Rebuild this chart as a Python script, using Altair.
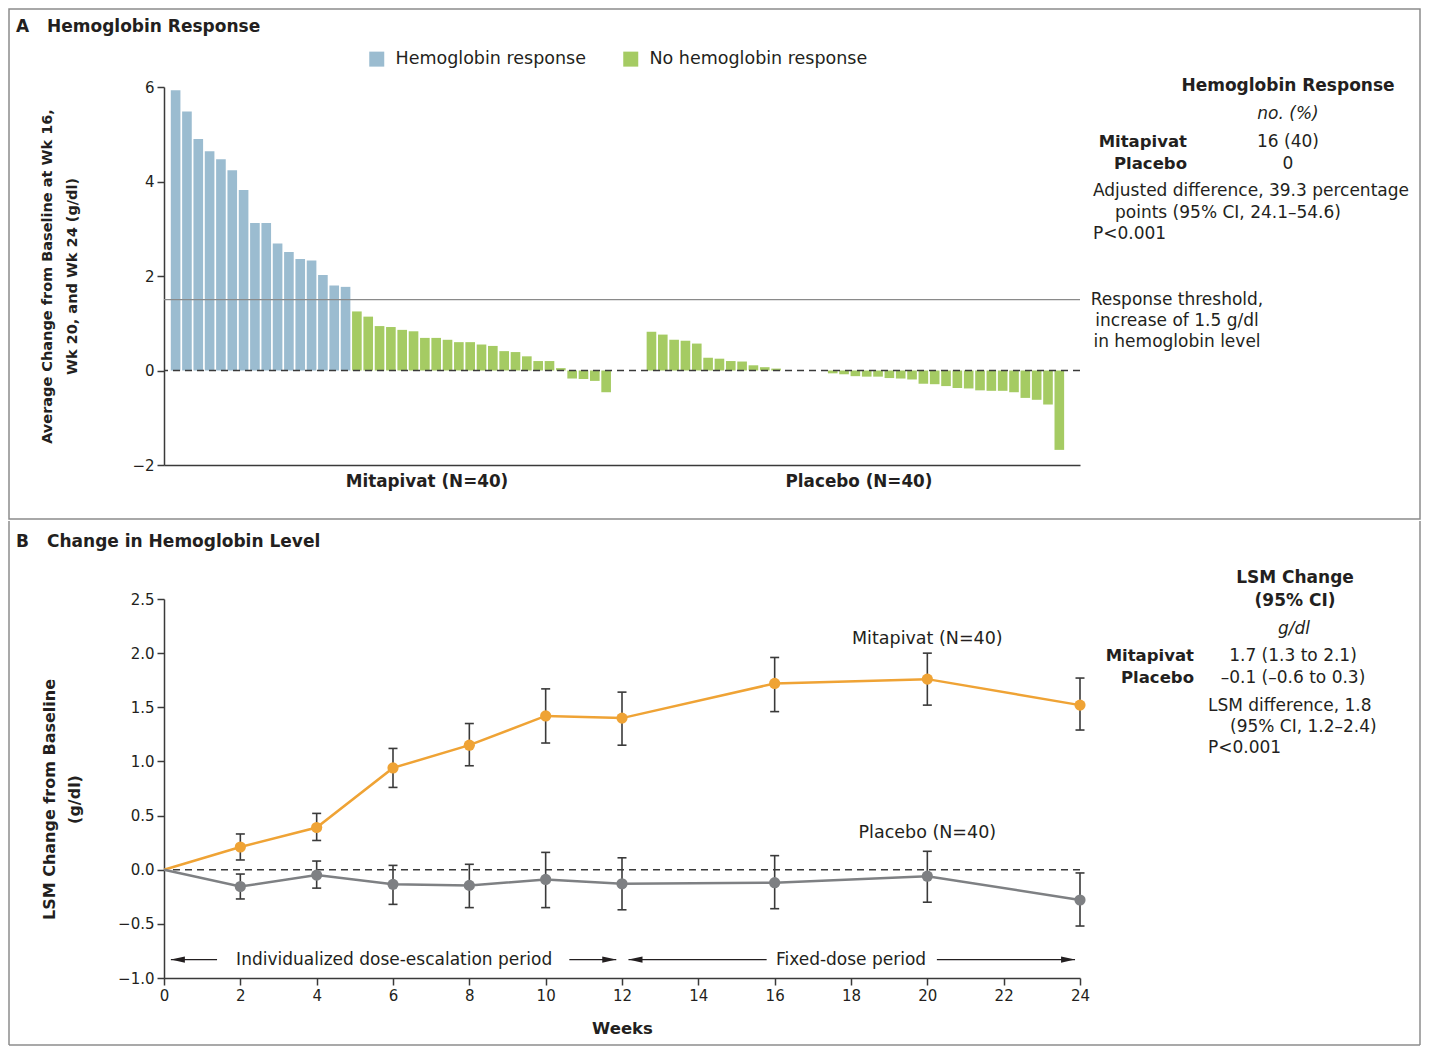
import altair as alt
import pandas as pd

FONT = "DejaVu Sans"
INK = "#231f20"
AXIS = "#3a3a3a"
BLUE = "#9bbcd0"
GREEN = "#a5cb63"
ORANGE = "#efa335"
GRAY = "#7e8083"
FRAME = "#8c8c8c"

# ---------------- Panel A data ----------------
mitapivat_response = [5.93, 5.48, 4.90, 4.64, 4.47, 4.24, 3.82, 3.12, 3.12, 2.69,
                      2.51, 2.36, 2.33, 2.02, 1.80, 1.77]
mitapivat_no_response = [1.25, 1.14, 0.94, 0.92, 0.86, 0.83, 0.69, 0.69, 0.65, 0.60,
                         0.60, 0.55, 0.52, 0.41, 0.39, 0.30, 0.20, 0.20, 0.05, -0.17,
                         -0.18, -0.22, -0.46]
placebo_values = [0.82, 0.76, 0.65, 0.63, 0.57, 0.27, 0.25, 0.20, 0.19, 0.11,
                  0.07, 0.04, 0.0, 0.0, 0.0, 0.0, -0.06, -0.08, -0.12, -0.13,
                  -0.13, -0.16, -0.17, -0.19, -0.28, -0.29, -0.33, -0.37, -0.38, -0.42,
                  -0.43, -0.43, -0.46, -0.58, -0.62, -0.72, -1.68]
gap_slots = ["gap1", "gap2", "gap3"]
threshold = [1.5]
zero_line = [0.0]
status_labels = ["Hemoglobin response", "No hemoglobin response"]
a_y_ticks = [-2, 0, 2, 4, 6]

# ---------------- Panel B data ----------------
weeks = [0, 2, 4, 6, 8, 10, 12, 16, 20, 24]
mit_lsm = [0.0, 0.21, 0.39, 0.94, 1.15, 1.42, 1.40, 1.72, 1.76, 1.52]
mit_low = [0.09, 0.27, 0.76, 0.96, 1.17, 1.15, 1.46, 1.52, 1.29]
mit_high = [0.33, 0.52, 1.12, 1.35, 1.67, 1.64, 1.96, 2.00, 1.77]
pbo_lsm = [0.0, -0.155, -0.05, -0.135, -0.145, -0.09, -0.13, -0.12, -0.06, -0.28]
pbo_low = [-0.27, -0.17, -0.32, -0.35, -0.35, -0.37, -0.36, -0.30, -0.52]
pbo_high = [-0.04, 0.08, 0.04, 0.05, 0.16, 0.11, 0.13, 0.17, -0.03]
b_x_ticks = [0, 2, 4, 6, 8, 10, 12, 14, 16, 18, 20, 22, 24]
b_y_ticks = [-1.0, -0.5, 0.0, 0.5, 1.0, 1.5, 2.0, 2.5]
series_labels = ["Mitapivat (N=40)", "Placebo (N=40)"]
series_label_week = [20, 20]
series_label_value = [2.13, 0.34]
period_names = ["Individualized dose-escalation period", "Fixed-dose period"]
period_text_week = [6.03, 18.0]
period_level = -0.83
arrow_start = [0.18, 10.62, 12.17, 20.25]
arrow_end = [1.39, 11.85, 15.79, 23.87]
arrow_tip_left = [0.18, 12.17]
arrow_tip_right = [11.85, 23.87]

W = 916
HA = 378
HB = 379
one = pd.DataFrame({"k": [0]})


def label(txt, x, y, size=17, weight="normal", align="left", style="normal"):
    return alt.Chart(one).mark_text(
        font=FONT, fontSize=size, fontWeight=weight, align=align, baseline="middle",
        color=INK, fontStyle=style
    ).encode(x=alt.value(x), y=alt.value(y), text=alt.value(txt))


# ---------------- Panel A ----------------
mit_all = mitapivat_response + mitapivat_no_response
mit_keys = [f"M{i:02d}" for i in range(len(mit_all))]
pbo_keys = [f"P{i:02d}" for i in range(len(placebo_values))]
slots = mit_keys + gap_slots + pbo_keys
bars = pd.DataFrame({
    "slot": mit_keys + pbo_keys,
    "value": mit_all + placebo_values,
    "status": [status_labels[0]] * len(mitapivat_response)
    + [status_labels[1]] * (len(mitapivat_no_response) + len(placebo_values)),
})

x_a = alt.X("slot:N", scale=alt.Scale(domain=slots, paddingInner=0.15, paddingOuter=1, align=0.3),
            axis=alt.Axis(labels=False, ticks=False, title=None, domainColor=AXIS, domainWidth=1.5))
y_a_axis = alt.Axis(values=a_y_ticks,
                    title=["Average Change from Baseline at Wk 16,", "Wk 20, and Wk 24 (g/dl)"],
                    titleFontSize=14.5, titleFontWeight="bold", titleLineHeight=25,
                    titleX=-110, titleY=HA / 2, titleAngle=-90, titleAlign="center",
                    titleBaseline="bottom", labelFontSize=15, tickSize=7, labelPadding=3, grid=False)
y_a_scale = alt.Scale(domain=[-2, 6], nice=False, zero=False)


def ya(field):
    return alt.Y(field, scale=y_a_scale, axis=y_a_axis)


frame_a = alt.Chart(one).mark_rect(fillOpacity=0, stroke=FRAME, strokeWidth=1.5).encode(
    x=alt.value(-155), x2=alt.value(1256), y=alt.value(-78), y2=alt.value(432))

bar_layer = alt.Chart(bars).mark_bar().encode(
    x=x_a, y=ya("value:Q"),
    color=alt.Color("status:N", scale=alt.Scale(domain=status_labels, range=[BLUE, GREEN]),
                    legend=alt.Legend(orient="none", legendX=204, legendY=-37, direction="horizontal",
                                      title=None, symbolType="square", symbolSize=225,
                                      symbolStrokeWidth=0, labelFontSize=17.5, labelFont=FONT,
                                      labelColor=INK, columnPadding=36, labelOffset=10,
                                      labelLimit=0)))

thr_df = pd.DataFrame({"value": threshold})
thr_rule = alt.Chart(thr_df).mark_rule(color="#8a8a8a", strokeWidth=1.2).encode(y=ya("value:Q"))
thr_text = alt.Chart(thr_df).mark_text(
    font=FONT, fontSize=17, align="center", baseline="middle", color=INK,
    lineBreak="\n", lineHeight=21
).encode(x=alt.value(1013), y=ya("value:Q"),
         text=alt.value("Response threshold,\nincrease of 1.5 g/dl\nin hemoglobin level"))
zero_a = alt.Chart(pd.DataFrame({"value": zero_line})).mark_rule(
    color=AXIS, strokeWidth=1.5, strokeDash=[7, 5]).encode(y=ya("value:Q"))

a_texts = [
    label("A", -148, -60, 17, "bold"),
    label("Hemoglobin Response", -117, -60, 17, "bold"),
    label("Mitapivat (N=40)", 263, 395, 16.8, "bold", "center"),
    label("Placebo (N=40)", 695, 395, 16.8, "bold", "center"),
    label("Hemoglobin Response", 1124, -1, 17, "bold", "center"),
    label("no. (%)", 1124, 27, 17, "normal", "center", "italic"),
    label("Mitapivat", 1023, 55, 16.5, "bold", "right"),
    label("16 (40)", 1124, 55, 17, "normal", "center"),
    label("Placebo", 1023, 77, 16.5, "bold", "right"),
    label("0", 1124, 77, 17, "normal", "center"),
    label("Adjusted difference, 39.3 percentage", 929, 104, 17),
    label("points (95% CI, 24.1–54.6)", 951, 126, 17),
    label("P<0.001", 929, 147, 17),
]

panel_a = alt.layer(frame_a, bar_layer, thr_rule, zero_a, thr_text, *a_texts).properties(width=W, height=HA)

# ---------------- Panel B ----------------
x_b_scale = alt.Scale(domain=[0, 24], nice=False, zero=False)
x_b_axis = alt.Axis(values=b_x_ticks, title="Weeks", titleFontSize=16.5, titleFontWeight="bold",
                    titlePadding=17, labelFontSize=15, tickSize=7, labelPadding=3, grid=False,
                    labelFlush=False, labelOverlap=False, format="d")
y_b_scale = alt.Scale(domain=[-1.0, 2.5], nice=False, zero=False)
y_b_axis = alt.Axis(values=b_y_ticks, format=".1f", title=["LSM Change from Baseline", "(g/dl)"],
                    titleFontSize=16, titleFontWeight="bold", titleLineHeight=25,
                    titleX=-107, titleY=200, titleAngle=-90, titleAlign="center",
                    titleBaseline="bottom", labelFontSize=15, tickSize=7, labelPadding=3,
                    grid=False, labelOverlap=False)


def xb(field):
    return alt.X(field, scale=x_b_scale, axis=x_b_axis)


def yb(field):
    return alt.Y(field, scale=y_b_scale, axis=y_b_axis)


mit_df = pd.DataFrame({"week": weeks, "lsm": mit_lsm})
pbo_df = pd.DataFrame({"week": weeks, "lsm": pbo_lsm})
err_df = pd.DataFrame({
    "week": weeks[1:] + weeks[1:],
    "low": mit_low + pbo_low,
    "high": mit_high + pbo_high,
})

frame_b = [
    alt.Chart(one).mark_rule(color=FRAME, strokeWidth=1.5).encode(
        x=alt.value(-155), y=alt.value(-78), y2=alt.value(446)),
    alt.Chart(one).mark_rule(color=FRAME, strokeWidth=1.5).encode(
        x=alt.value(1256), y=alt.value(-78), y2=alt.value(446)),
    alt.Chart(one).mark_rule(color=FRAME, strokeWidth=1.5).encode(
        x=alt.value(-155), x2=alt.value(1256), y=alt.value(446)),
]

zero_b = alt.Chart(pd.DataFrame({"lsm": zero_line})).mark_rule(
    color=AXIS, strokeWidth=1.5, strokeDash=[7, 5]).encode(y=yb("lsm:Q"))

err_rule = alt.Chart(err_df).mark_rule(color=AXIS, strokeWidth=1.6).encode(
    x=xb("week:Q"), y=yb("low:Q"), y2="high:Q")
cap_low = alt.Chart(err_df).mark_tick(orient="horizontal", size=9, thickness=1.6, color=AXIS, opacity=1).encode(
    x=xb("week:Q"), y=yb("low:Q"))
cap_high = alt.Chart(err_df).mark_tick(orient="horizontal", size=9, thickness=1.6, color=AXIS, opacity=1).encode(
    x=xb("week:Q"), y=yb("high:Q"))

mit_line = alt.Chart(mit_df).mark_line(color=ORANGE, strokeWidth=2.5).encode(x=xb("week:Q"), y=yb("lsm:Q"))
pbo_line = alt.Chart(pbo_df).mark_line(color=GRAY, strokeWidth=2.5).encode(x=xb("week:Q"), y=yb("lsm:Q"))
mit_pts = alt.Chart(mit_df.iloc[1:]).mark_circle(color=ORANGE, size=125, opacity=1).encode(
    x=xb("week:Q"), y=yb("lsm:Q"))
pbo_pts = alt.Chart(pbo_df.iloc[1:]).mark_circle(color=GRAY, size=125, opacity=1).encode(
    x=xb("week:Q"), y=yb("lsm:Q"))

ser_df = pd.DataFrame({"week": series_label_week, "lsm": series_label_value, "name": series_labels})
ser_text = alt.Chart(ser_df).mark_text(font=FONT, fontSize=17.5, align="center", baseline="middle",
                                       color=INK).encode(x=xb("week:Q"), y=yb("lsm:Q"), text="name:N")

per_df = pd.DataFrame({"week": period_text_week, "lsm": [period_level] * 2, "name": period_names})
per_text = alt.Chart(per_df).mark_text(font=FONT, fontSize=17, align="center", baseline="middle",
                                       color=INK).encode(x=xb("week:Q"), y=yb("lsm:Q"), text="name:N")
arr_df = pd.DataFrame({"week": arrow_start, "week_end": arrow_end, "lsm": [period_level] * 4})
arr_lines = alt.Chart(arr_df).mark_rule(color=INK, strokeWidth=1.4).encode(
    x=xb("week:Q"), x2="week_end:Q", y=yb("lsm:Q"))
tipl_df = pd.DataFrame({"week": arrow_tip_left, "lsm": [period_level] * 2})
tipr_df = pd.DataFrame({"week": arrow_tip_right, "lsm": [period_level] * 2})
tip_left = alt.Chart(tipl_df).mark_point(shape="M0,0L1.4,-0.32L1.4,0.32Z", size=400, filled=True,
                                         color=INK, opacity=1, strokeWidth=0).encode(
    x=xb("week:Q"), y=yb("lsm:Q"))
tip_right = alt.Chart(tipr_df).mark_point(shape="M0,0L-1.4,-0.32L-1.4,0.32Z", size=400, filled=True,
                                          color=INK, opacity=1, strokeWidth=0).encode(
    x=xb("week:Q"), y=yb("lsm:Q"))

b_texts = [
    label("B", -148, -57, 17, "bold"),
    label("Change in Hemoglobin Level", -117, -57, 17, "bold"),
    label("LSM Change", 1131, -21, 17, "bold", "center"),
    label("(95% CI)", 1131, 2, 17, "bold", "center"),
    label("g/dl", 1130, 30, 17, "normal", "center", "italic"),
    label("Mitapivat", 1030, 57, 16.5, "bold", "right"),
    label("1.7 (1.3 to 2.1)", 1129, 57, 17, "normal", "center"),
    label("Placebo", 1030, 79, 16.5, "bold", "right"),
    label("–0.1 (–0.6 to 0.3)", 1129, 79, 17, "normal", "center"),
    label("LSM difference, 1.8", 1044, 107, 17),
    label("(95% CI, 1.2–2.4)", 1066, 128, 17),
    label("P<0.001", 1044, 149, 17),
]

panel_b = alt.layer(*frame_b, zero_b, err_rule, cap_low, cap_high, mit_line, pbo_line,
                    mit_pts, pbo_pts, ser_text, arr_lines, tip_left, tip_right, per_text,
                    *b_texts).properties(width=W, height=HB)

chart = alt.vconcat(panel_a, panel_b, spacing=0).properties(padding=0).configure_view(
    stroke=None
).configure_axis(
    labelFont=FONT, titleFont=FONT, labelColor=INK, titleColor=INK,
    domainColor=AXIS, tickColor=AXIS, domainWidth=1.5, tickWidth=1.5, grid=False
).configure_legend(labelFont=FONT)

chart.save("out.html", embed_options={"renderer": "svg", "actions": False})
